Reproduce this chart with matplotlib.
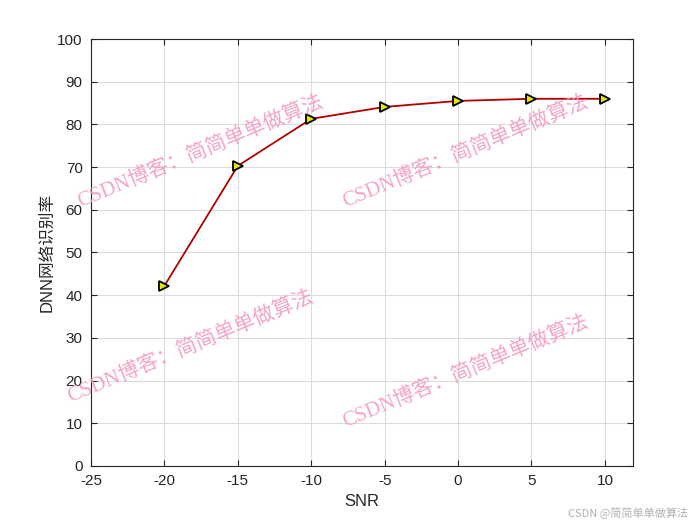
import matplotlib.pyplot as plt

snr = [-20, -15, -10, -5, 0, 5, 10]
acc = [42.2, 70.3, 81.3, 84.1, 85.5, 86.0, 86.0]
xticks = [-25, -20, -15, -10, -5, 0, 5, 10]
yticks = list(range(0, 101, 10))

wm_text = "CSDN博客：简简单单做算法"
wm_pos = [(80, 207), (345, 207), (70, 402), (345, 427)]  # pixel, from top-left

plt.rcParams['font.family'] = ['DejaVu Sans', 'Noto Sans CJK SC']
plt.rcParams['axes.unicode_minus'] = False

fig = plt.figure(figsize=(7, 5.25), dpi=100)
ax = fig.add_axes([0.13, 0.1124, 0.774, 0.8133])

ax.plot(snr, acc, color="#b00000", linewidth=1.3, marker=">", markersize=7,
        markerfacecolor="#e6e600", markeredgecolor="black", markeredgewidth=1.3, zorder=3)

ax.set_xlim(-25, 11.9)
ax.set_ylim(0, 100)
ax.set_xticks(xticks)
ax.set_yticks(yticks)
ax.grid(True, color="#dcdcdc", linewidth=0.8)
ax.set_axisbelow(True)
ax.tick_params(direction="in", top=True, right=True, labelsize=11, length=4, width=0.8,
               colors="#262626", pad=6)
for s in ax.spines.values():
    s.set_color("#262626")
    s.set_linewidth(0.8)

ax.set_xlabel("SNR", fontsize=12, color="#262626",
              family=['Liberation Sans', 'Noto Sans CJK SC'])
ax.set_ylabel("DNN网络识别率", fontsize=12, color="#262626",
              family=['Liberation Sans', 'Noto Sans CJK SC'], labelpad=2)
for lab in ax.get_xticklabels() + ax.get_yticklabels():
    lab.set_family(['Liberation Sans', 'Noto Sans CJK SC'])

for px, py in wm_pos:
    fig.text(px / 700, 1 - py / 525, wm_text, rotation=22.5, rotation_mode="anchor",
             ha="left", va="baseline", fontsize=15, color="#f29ac4", alpha=0.9,
             family=['Liberation Serif', 'Noto Sans CJK SC'], zorder=5)

fig.text(688 / 700, 1 - 517 / 525, "CSDN @简简单单做算法", ha="right", va="baseline",
         fontsize=8, color="#b0b0b0", family=['Noto Sans CJK SC', 'DejaVu Sans'])

plt.savefig("out.png", dpi=100)
